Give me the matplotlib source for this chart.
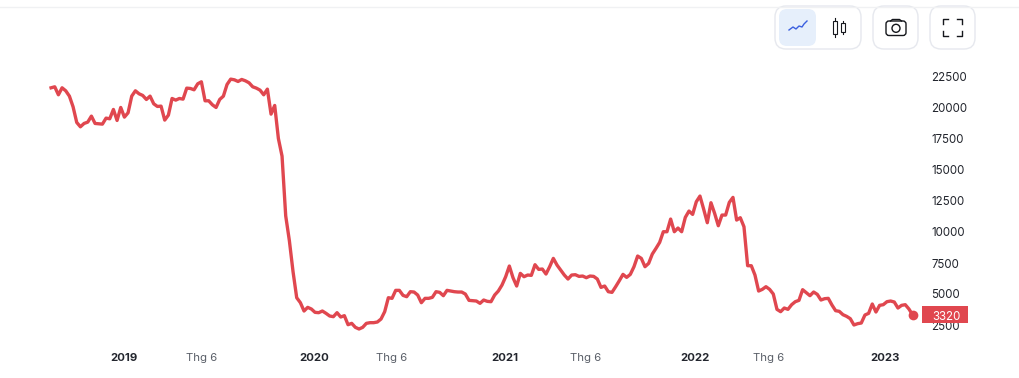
import matplotlib
matplotlib.use("Agg")
import matplotlib.pyplot as plt
import matplotlib.dates as mdates
from matplotlib.patches import FancyBboxPatch, Rectangle, Circle
import pandas as pd

plt.rcParams['font.family'] = ['Inter', 'DejaVu Sans']

# weekly price
prices = [
    21629, 21710, 21065, 21629, 21387, 20957, 20097, 18834, 18485, 18754,
    18861, 19345, 18754, 18727, 18700, 19184, 19130, 19882, 18996, 20043,
    19264, 19614, 20957, 21387, 21145, 21011, 20688, 20957, 20339, 20124,
    20151, 19023, 19426, 20769, 20635, 20769, 20715, 21602, 21575, 21468,
    21951, 22113, 20581, 20581, 20259, 20043, 20688, 20957, 21898, 22328,
    22274, 22139, 22301, 22193, 22032, 21710, 21602, 21441, 21065, 21521,
    19506, 20205, 17545, 16120, 11300, 9300, 6800, 4700, 4300, 3628,
    3923, 3789, 3520, 3493, 3628, 3440, 3225, 3171, 3493, 3144,
    3252, 2526, 2633, 2311, 2177, 2311, 2633, 2687, 2687, 2741,
    2983, 3574, 4702, 4649, 5294, 5294, 4890, 4783, 5186, 5159,
    4917, 4299, 4649, 4649, 4729, 5186, 5132, 4864, 5294, 5240,
    5186, 5159, 5159, 4998, 4487, 4461, 4434, 4246, 4514, 4407,
    4380, 4917, 5240, 5723, 6395, 7255, 6315, 5643, 6664, 6395,
    6530, 6503, 7363, 6986, 7013, 6610, 7201, 7873, 7335, 6932,
    6529, 6207, 6529, 6556, 6421, 6448, 6314, 6448, 6421, 6207,
    5535, 5642, 5186, 5132, 5589, 6072, 6583, 6341, 6583, 7201,
    8061, 7873, 7201, 7469, 8222, 8679, 9162, 10022, 10022, 11043,
    10022, 10318, 10022, 11178, 11688, 11419, 12440, 12897, 11849, 10748,
    12360, 11500, 10506, 11366, 11366, 12387, 12790, 10963, 11151, 10425,
    7281, 7281, 6529, 5239, 5374, 5589, 5374, 4997, 3762, 3574,
    3870, 3762, 4138, 4380, 4488, 5348, 5106, 4864, 5160, 4971,
    4515, 4622, 4649, 4112, 3655, 3601, 3332, 3198, 3010, 2500,
    2607, 2660, 3306, 3440, 4192, 3547, 4085, 4138, 4380, 4434,
    4354, 3870, 4085, 4138, 3789, 3320,
]
first_day = "2018-08-14"
last_day = "2023-02-23"

tick_days = ["2019-01-01", "2019-05-29", "2020-01-01", "2020-05-28",
             "2021-01-01", "2021-06-05", "2022-01-01", "2022-05-23", "2023-01-01"]
tick_names = ["2019", "Thg 6", "2020", "Thg 6", "2021", "Thg 6", "2022", "Thg 6", "2023"]
y_ticks = [2500, 5000, 7500, 10000, 12500, 15000, 17500, 20000, 22500]
last_price = 3320

red = "#e0474f"
dates = pd.date_range(first_day, last_day, periods=len(prices))

fig = plt.figure(figsize=(10.2, 3.78), dpi=100, facecolor="white")

# axes box in pixels: x 0-923, y 62-340
ax = fig.add_axes([0, (378 - 340) / 378, 923 / 1020, (340 - 62) / 378])
ax.plot(dates, prices, color=red, lw=2.4, solid_joinstyle="round")
ax.plot(dates[-1], last_price, "o", color=red, ms=7, mew=0)

# pixel anchors: 2019-01-01 at x=124, 2023-01-01 at x=885
x0 = mdates.date2num(pd.Timestamp("2019-01-01"))
day_px = (885 - 124) / 1461
ax.set_xlim(x0 - 124 / day_px, x0 + (923 - 124) / day_px)
val_px = 20000 / (325 - 77)
ax.set_ylim(2500 - (340 - 325) * val_px, 22500 + (77 - 62) * val_px)

for s in ax.spines.values():
    s.set_visible(False)
ax.yaxis.tick_right()
ax.set_yticks(y_ticks)
ax.set_xticks(pd.to_datetime(tick_days))
ax.set_xticklabels(tick_names)
ax.tick_params(axis="y", length=0, pad=6.2, labelsize=8.3, labelcolor="#23262e")
ax.tick_params(axis="x", length=0, pad=9.5, labelsize=8.2, labelcolor="#5a5f68")
for lab in ax.get_xticklabels():
    if lab.get_text().isdigit():
        lab.set_fontweight("bold")
        lab.set_color("#23262e")

# page furniture, in pixels
top = fig.add_axes([0, 0, 1, 1], zorder=5)
top.set_xlim(0, 1020)
top.set_ylim(378, 0)
top.axis("off")
top.patch.set_visible(False)

top.plot([0, 1020], [7, 7], color="#f0f1f3", lw=1)
top.add_patch(Rectangle((922, 306), 46, 17, color=red, lw=0))
top.text(932, 315, str(last_price), color="white", fontsize=8.3, va="center_baseline", ha="left")


def button(x, y, w, h, r, fc, ec):
    top.add_patch(FancyBboxPatch((x + r, y + r), w - 2 * r, h - 2 * r,
                                 boxstyle="round,pad=%d,rounding_size=%d" % (r, r),
                                 fc=fc, ec=ec, lw=1))


button(775, 6, 86, 43, 11, "white", "#e6e8ee")
button(873, 6, 45, 43, 11, "white", "#e6e8ee")
button(930, 6, 45, 43, 11, "white", "#e6e8ee")
button(779, 9, 37, 37, 8, "#e6effb", "none")

# line icon
top.plot([789, 793, 796, 799, 802, 804, 807], [30, 27, 29, 26, 27, 24, 21], color="#3a5fe0", lw=1.0)

# candle icon
ink = "#15171c"
top.add_patch(Rectangle((833.3, 20.7), 4, 13.3, fc="none", ec=ink, lw=0.8))
top.add_patch(Rectangle((841.3, 23.3), 4, 9, fc="none", ec=ink, lw=0.8))
top.plot([835.3, 835.3], [18, 20.7], color=ink, lw=0.8)
top.plot([835.3, 835.3], [34, 37], color=ink, lw=0.8)
top.plot([843.3, 843.3], [21, 23.3], color=ink, lw=0.8)
top.plot([843.3, 843.3], [32.3, 34], color=ink, lw=0.8)

# camera icon
top.add_patch(FancyBboxPatch((888, 23), 16, 10.5, boxstyle="round,pad=2,rounding_size=3", fc="none", ec=ink, lw=1.0))
top.plot([890.5, 892.5, 899.5, 901.5], [21, 19.5, 19.5, 21], color=ink, lw=1.0)
top.add_patch(Circle((896, 28.3), 4, fc="none", ec=ink, lw=1.0))

# fullscreen icon
for cx, cy, sx, sy in [(943.5, 19, 1, 1), (962, 19, -1, 1), (943.5, 36, 1, -1), (962, 36, -1, -1)]:
    top.plot([cx, cx, cx + 5 * sx], [cy + 5 * sy, cy, cy], color=ink, lw=1.0, solid_joinstyle="round")

fig.savefig("out.png", dpi=100)
